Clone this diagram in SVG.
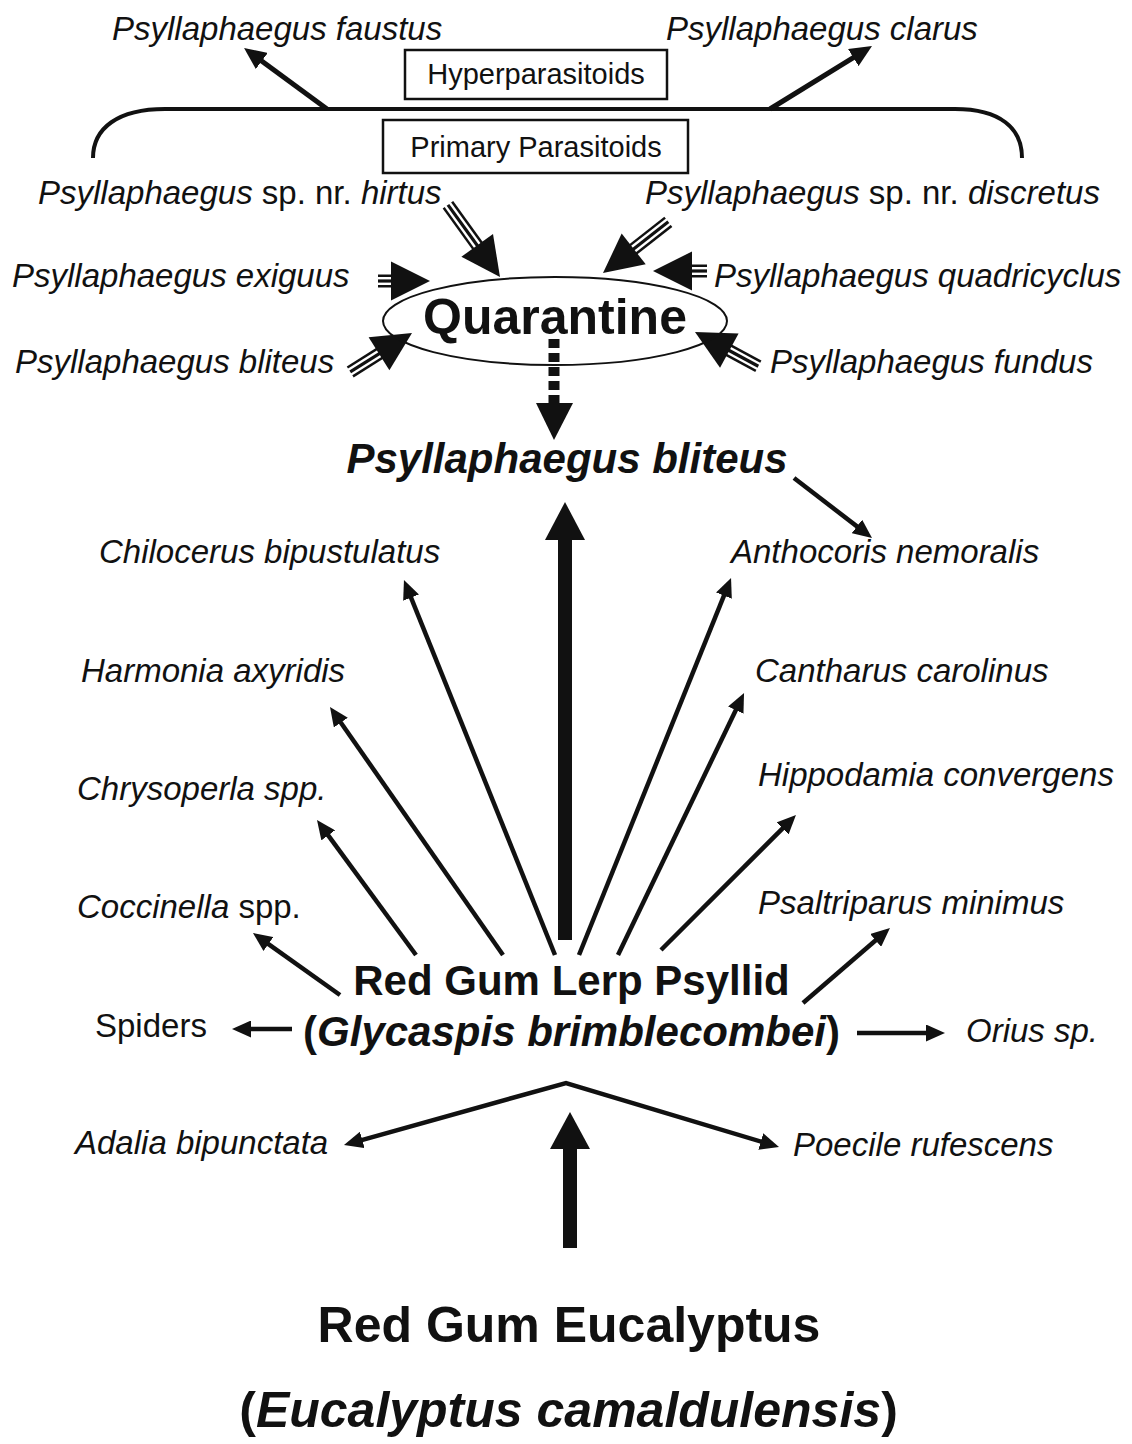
<svg xmlns="http://www.w3.org/2000/svg" width="1132" height="1444" viewBox="0 0 1132 1444">
<style>
text{font-family:"Liberation Sans",Arial,Helvetica,sans-serif;fill:#111}
.it{font-style:italic;font-size:33px}
.rg{font-style:normal}
.bxt{font-size:29px;text-anchor:middle}
.bold{font-weight:bold}
.box{fill:none;stroke:#111;stroke-width:2.5}
.ln{fill:none;stroke:#111;stroke-width:4.5;marker-end:url(#ah)}
.lnm{fill:none;stroke:#111;stroke-width:5;marker-end:url(#ahm)}
.s1{stroke:#111;stroke-width:13}
.s2{stroke:#fff;stroke-width:8}
.s3{stroke:#111;stroke-width:3.2}
.hd{fill:#111}
</style>
<defs>
<marker id="ah" markerUnits="userSpaceOnUse" viewBox="0 0 19 17" markerWidth="19" markerHeight="17" refX="9" refY="8.5" orient="auto-start-reverse">
<path d="M0,0 L19,8.5 L0,17 z" fill="#111"/>
</marker>
<marker id="ahm" markerUnits="userSpaceOnUse" viewBox="0 0 22 20" markerWidth="22" markerHeight="20" refX="12" refY="10" orient="auto">
<path d="M0,0 L22,10 L0,20 z" fill="#111"/>
</marker>
</defs>
<rect width="1132" height="1444" fill="#fff"/>

<g id="connectors">
<path d="M93,158 C93,128 118,109 165,109 L955,109 C1000,109 1022,128 1022,158" fill="none" stroke="#111" stroke-width="4"/>
<line class="lnm" x1="327" y1="109" x2="252.1" y2="53.9"/>
<line class="lnm" x1="770" y1="109" x2="863.5" y2="51.3"/>

<g transform="translate(500,277) rotate(54.2)"><line class="s1" x1="-89" y1="0" x2="-32" y2="0"/><line class="s2" x1="-90" y1="0" x2="-32" y2="0"/><line class="s3" x1="-89" y1="0" x2="-32" y2="0"/><polygon class="hd" points="0,0 -39,-19.5 -39,19.5"/></g>
<g transform="translate(603,273) rotate(141.9)"><line class="s1" x1="-83" y1="0" x2="-32" y2="0"/><line class="s2" x1="-84" y1="0" x2="-32" y2="0"/><line class="s3" x1="-83" y1="0" x2="-32" y2="0"/><polygon class="hd" points="0,0 -39,-19.5 -39,19.5"/></g>
<g transform="translate(430,281)"><line class="s1" x1="-52" y1="0" x2="-32" y2="0"/><line class="s2" x1="-53" y1="0" x2="-32" y2="0"/><line class="s3" x1="-52" y1="0" x2="-32" y2="0"/><polygon class="hd" points="0,0 -39,-19.5 -39,19.5"/></g>
<g transform="translate(653,271) rotate(180)"><line class="s1" x1="-54" y1="0" x2="-32" y2="0"/><line class="s2" x1="-55" y1="0" x2="-32" y2="0"/><line class="s3" x1="-54" y1="0" x2="-32" y2="0"/><polygon class="hd" points="0,0 -39,-19.5 -39,19.5"/></g>
<g transform="translate(412,333) rotate(-32.2)"><line class="s1" x1="-73" y1="0" x2="-32" y2="0"/><line class="s2" x1="-74" y1="0" x2="-32" y2="0"/><line class="s3" x1="-73" y1="0" x2="-32" y2="0"/><polygon class="hd" points="0,0 -39,-19.5 -39,19.5"/></g>
<g transform="translate(695,332) rotate(-151.6)"><line class="s1" x1="-72" y1="0" x2="-32" y2="0"/><line class="s2" x1="-73" y1="0" x2="-32" y2="0"/><line class="s3" x1="-72" y1="0" x2="-32" y2="0"/><polygon class="hd" points="0,0 -39,-19.5 -39,19.5"/></g>

<line x1="554" y1="339" x2="554" y2="404" stroke="#111" stroke-width="11" stroke-dasharray="9 5"/>
<polygon class="hd" points="536,403 573,403 554,440"/>

<line class="ln" x1="794" y1="478" x2="864.1" y2="531.9"/>

<rect x="558" y="536" width="14" height="404" fill="#111"/>
<polygon class="hd" points="545,540 585,540 565,502"/>

<line class="ln" x1="340" y1="995" x2="261.1" y2="938.8"/>
<line class="ln" x1="416" y1="955" x2="322.9" y2="828.1"/>
<line class="ln" x1="503" y1="955" x2="335.7" y2="715.2"/>
<line class="ln" x1="555" y1="955" x2="407.7" y2="589.3"/>
<line class="ln" x1="579" y1="955" x2="727.3" y2="587.3"/>
<line class="ln" x1="618" y1="955" x2="739.7" y2="702"/>
<line class="ln" x1="661" y1="950" x2="788.9" y2="822.1"/>
<line class="ln" x1="803" y1="1003" x2="882.4" y2="934.5"/>
<line class="ln" x1="292" y1="1029" x2="242" y2="1029"/>
<line class="ln" x1="857" y1="1033" x2="935" y2="1033"/>
<path class="ln" d="M353.6,1142.3 L566,1083 L769.4,1144.1" marker-start="url(#ah)" stroke-linejoin="miter"/>

<rect x="563" y="1146" width="14" height="102" fill="#111"/>
<polygon class="hd" points="550,1149 590,1149 570,1112"/>
</g>

<g id="hyperparasitoids"><rect class="box" x="405" y="50" width="262" height="49"/><text class="bxt" x="536" y="84">Hyperparasitoids</text></g>
<g id="primary-parasitoids"><rect class="box" x="383" y="120" width="305" height="53"/><text class="bxt" x="536" y="157">Primary Parasitoids</text></g>
<g id="p-faustus"><text class="it" x="112" y="40">Psyllaphaegus faustus</text></g>
<g id="p-clarus"><text class="it" x="666" y="40">Psyllaphaegus clarus</text></g>
<g id="p-hirtus"><text class="it" x="38" y="204">Psyllaphaegus<tspan class="rg"> sp. nr. </tspan>hirtus</text></g>
<g id="p-discretus"><text class="it" x="645" y="204">Psyllaphaegus<tspan class="rg"> sp. nr. </tspan>discretus</text></g>
<g id="p-exiguus"><text class="it" x="12" y="287">Psyllaphaegus exiguus</text></g>
<g id="p-quadricyclus"><text class="it" x="714" y="287">Psyllaphaegus quadricyclus</text></g>
<g id="p-bliteus-l"><text class="it" x="15" y="373">Psyllaphaegus bliteus</text></g>
<g id="p-fundus"><text class="it" x="770" y="373">Psyllaphaegus fundus</text></g>
<g id="quarantine"><ellipse cx="555" cy="321" rx="172" ry="44" fill="none" stroke="#111" stroke-width="2"/><text class="bold" x="555" y="334" font-size="50" text-anchor="middle">Quarantine</text></g>
<g id="p-bliteus"><text class="bold" x="567" y="473" font-size="42" font-style="italic" text-anchor="middle">Psyllaphaegus bliteus</text></g>
<g id="chilocerus"><text class="it" x="99" y="563">Chilocerus bipustulatus</text></g>
<g id="anthocoris"><text class="it" x="731" y="563">Anthocoris nemoralis</text></g>
<g id="harmonia"><text class="it" x="81" y="682">Harmonia axyridis</text></g>
<g id="cantharus"><text class="it" x="755" y="682">Cantharus carolinus</text></g>
<g id="chrysoperla"><text class="it" x="77" y="800">Chrysoperla spp.</text></g>
<g id="hippodamia"><text class="it" x="758" y="786">Hippodamia convergens</text></g>
<g id="coccinella"><text class="it" x="77" y="918">Coccinella<tspan class="rg"> spp.</tspan></text></g>
<g id="psaltriparus"><text class="it" x="758" y="914">Psaltriparus minimus</text></g>
<g id="spiders"><text class="it rg" x="95" y="1037">Spiders</text></g>
<g id="orius"><text class="it" x="966" y="1042">Orius sp.</text></g>
<g id="adalia"><text class="it" x="75" y="1154">Adalia bipunctata</text></g>
<g id="poecile"><text class="it" x="793" y="1156">Poecile rufescens</text></g>
<g id="psyllid"><text class="bold" x="571.5" y="995" font-size="42" text-anchor="middle">Red Gum Lerp Psyllid</text><text class="bold" x="571.5" y="1046" font-size="42" text-anchor="middle">(<tspan font-style="italic">Glycaspis brimblecombei</tspan>)</text></g>
<g id="eucalyptus"><text class="bold" x="569" y="1342" font-size="50" text-anchor="middle">Red Gum Eucalyptus</text><text class="bold" x="568.5" y="1427" font-size="50" text-anchor="middle">(<tspan font-style="italic">Eucalyptus camaldulensis</tspan>)</text></g>
</svg>
